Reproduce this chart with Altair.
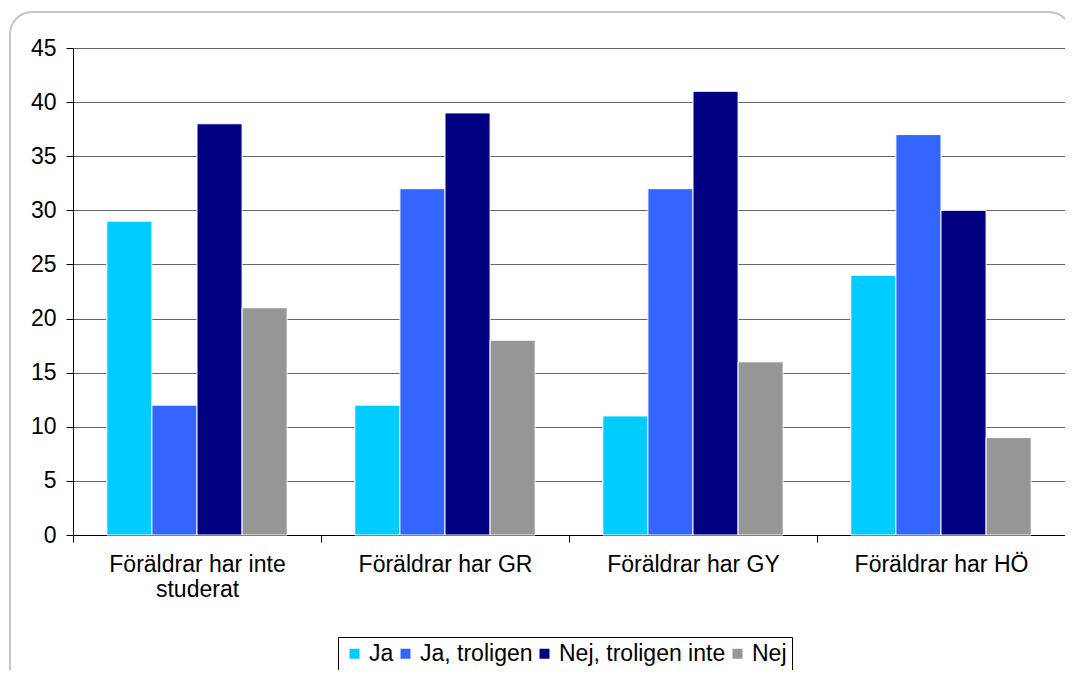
import altair as alt
import pandas as pd

categories = ["Föräldrar har inte studerat", "Föräldrar har GR", "Föräldrar har GY", "Föräldrar har HÖ"]
series = ["Ja", "Ja, troligen", "Nej, troligen inte", "Nej"]
ja = [29, 12, 11, 24]
ja_troligen = [12, 32, 32, 37]
nej_troligen_inte = [38, 39, 41, 30]
nej = [21, 18, 16, 9]
colors = ["#00CCFF", "#3366FF", "#000080", "#969696"]
y_ticks = [0, 5, 10, 15, 20, 25, 30, 35, 40, 45]

rows = []
for i, c in enumerate(categories):
    for s, vals in zip(series, [ja, ja_troligen, nej_troligen_inte, nej]):
        rows.append({"Kategori": c, "Svar": s, "Värde": vals[i]})
df = pd.DataFrame(rows)

W, H = 992, 487
FONT = "Liberation Sans"

frame = alt.Chart(pd.DataFrame({"a": [0]})).mark_rect(
    fill=None, stroke="#C4C4C4", strokeWidth=2, cornerRadius=22
).encode(
    x=alt.value(-63), x2=alt.value(998), y=alt.value(-36), y2=alt.value(660)
)

bars = alt.Chart(df).mark_bar(stroke="white", strokeWidth=1).encode(
    x=alt.X(
        "Kategori:N", sort=categories,
        scale=alt.Scale(paddingInner=0, paddingOuter=0),
        axis=alt.Axis(
            title=None, labelAngle=0, tickBand="extent", grid=False,
            domainColor="black", tickColor="black", tickSize=7,
            labelPadding=11, labelFontSize=23, labelLineHeight=25,
            labelColor="black", labelFont=FONT,
            labelExpr="datum.value == 'Föräldrar har inte studerat' ? ['Föräldrar har inte', 'studerat'] : datum.value",
        ),
    ),
    xOffset=alt.XOffset("Svar:N", sort=series,
                        scale=alt.Scale(paddingInner=0, paddingOuter=0.75)),
    y=alt.Y(
        "Värde:Q",
        scale=alt.Scale(domain=[0, 45], nice=False),
        axis=alt.Axis(
            values=y_ticks, title=None, domainColor="black", tickColor="black",
            tickSize=7, labelPadding=10, labelFontSize=23, labelColor="black",
            labelFont=FONT, gridColor="#666666", gridWidth=1,
        ),
    ),
    color=alt.Color(
        "Svar:N", sort=series,
        scale=alt.Scale(domain=series, range=colors),
        legend=alt.Legend(
            title=None, orient="none", legendX=265, legendY=589,
            direction="horizontal", strokeColor="black", fillColor="white",
            padding=5, labelFontSize=23, labelFont=FONT, labelColor="black",
            labelLimit=400,
            symbolType="square", symbolSize=100, symbolStrokeWidth=0,
            labelOffset=3, columnPadding=0,
        ),
    ),
)

chart = alt.layer(frame, bars).properties(
    width=W, height=H,
    autosize=alt.AutoSizeParams(type="none"),
    padding={"left": 65, "top": 40, "right": 0, "bottom": 135},
).configure_view(stroke="#808080", strokeWidth=1).configure(font=FONT)

chart.save("out.html", embed_options={"renderer": "svg", "actions": False})
